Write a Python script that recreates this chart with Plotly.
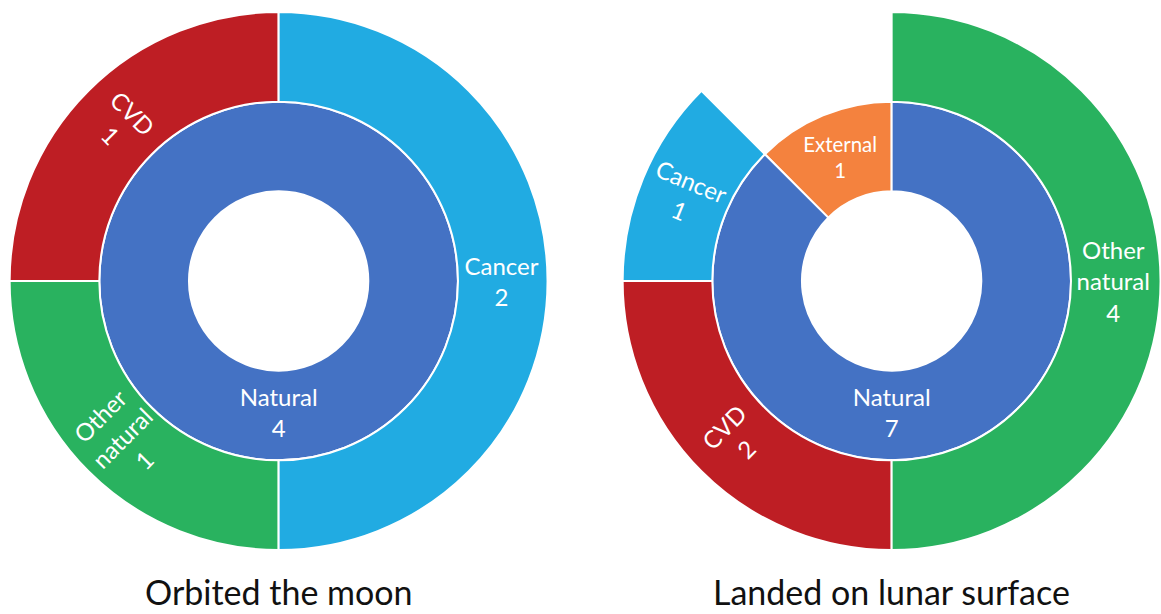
import plotly.graph_objects as go

# Cause-of-death hierarchy for each group of astronauts
orbit_ids = ["root", "Natural", "CVD", "Other natural", "Cancer"]
orbit_labels = ["", "Natural", "CVD", "Other<br>natural", "Cancer"]
orbit_parents = ["", "root", "Natural", "Natural", "Natural"]
orbit_values = [4, 4, 1, 1, 2]
orbit_colors = ["#FFFFFF", "#4472C4", "#BE1E24", "#29B25F", "#21ABE2"]

landed_ids = ["root", "External", "Natural", "Cancer", "CVD", "Other natural"]
landed_labels = ["", "External", "Natural", "Cancer", "CVD", "Other<br>natural"]
landed_parents = ["", "root", "root", "Natural", "Natural", "Natural"]
landed_values = [8, 1, 7, 1, 2, 4]
landed_colors = ["#FFFFFF", "#F4823E", "#4472C4", "#21ABE2", "#BE1E24", "#29B25F"]

titles = ["Orbited the moon", "Landed on lunar surface"]

FONT = "Lato"
TRANSPARENT = "rgba(0,0,0,0)"


def ring_text(labels, parents, values, outer):
    """Label text for one ring: inner ring (parent is root) or outer ring."""
    out = []
    for lab, par, val in zip(labels, parents, values):
        is_outer = par not in ("", "root")
        is_inner = par == "root"
        show = is_outer if outer else is_inner
        out.append(f"{lab}<br>{val}" if show else "")
    return out


def add_chart(fig, ids, labels, parents, values, colors, xdom):
    common = dict(ids=ids, labels=labels, parents=parents, values=values,
                  branchvalues="total", sort=False, rotation=90,
                  leaf=dict(opacity=1), textinfo="text", hoverinfo="skip",
                  domain=dict(x=xdom, y=[0, 1]))
    # filled sectors, inner ring labelled horizontally
    fig.add_trace(go.Sunburst(
        **common,
        marker=dict(colors=colors, line=dict(color="white", width=2)),
        text=ring_text(labels, parents, values, outer=False),
        insidetextorientation="horizontal",
        textfont=dict(family=FONT, size=24, color="white"),
    ))
    # outer ring labels, set along the radius
    fig.add_trace(go.Sunburst(
        **common,
        marker=dict(colors=[TRANSPARENT] * len(ids),
                    line=dict(color=TRANSPARENT, width=0)),
        text=ring_text(labels, parents, values, outer=True),
        insidetextorientation="radial",
        textfont=dict(family=FONT, size=24, color="white"),
    ))


fig = go.Figure()
add_chart(fig, orbit_ids, orbit_labels, orbit_parents, orbit_values,
          orbit_colors, [0.0, 0.48])
add_chart(fig, landed_ids, landed_labels, landed_parents, landed_values,
          landed_colors, [0.536, 1.0])

for cx, t in zip([0.24, 0.768], titles):
    fig.add_annotation(text=t, x=cx, y=0, xref="paper", yref="paper",
                       xanchor="center", yanchor="top", yshift=-19,
                       showarrow=False,
                       font=dict(family=FONT, size=34, color="#111111"))

fig.update_layout(
    width=1161, height=614,
    margin=dict(l=0, r=0, t=12, b=64),
    paper_bgcolor="white", plot_bgcolor="white",
    showlegend=False,
)
fig.write_html("out.html")
